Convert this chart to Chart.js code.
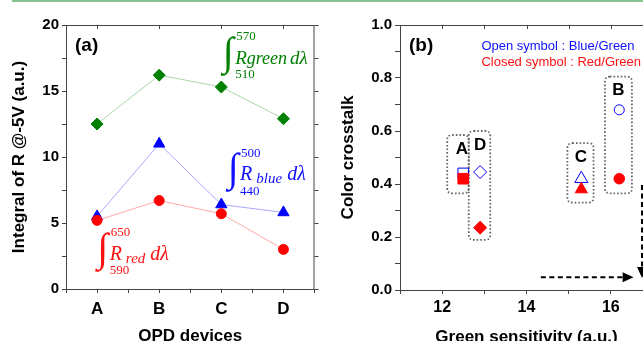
<!DOCTYPE html>
<html>
<head>
<meta charset="utf-8">
<script src="https://cdn.jsdelivr.net/npm/chart.js@4.4.0/dist/chart.umd.min.js"></script>
<style>
html, body { margin: 0; padding: 0; background: #fff; }
body { width: 643px; height: 341px; overflow: hidden; position: relative; }
#topline { position: absolute; left: 12px; top: 0; width: 631px; height: 0; border-top: 2px solid #86c48f; z-index: 2; }
canvas { position: absolute; top: 0; }
</style>
</head>
<body>
<canvas id="chartA" width="322" height="360" style="left:0"></canvas>
<canvas id="chartB" width="350" height="360" style="left:322px"></canvas>
<div id="topline"></div>
<script>
// panel (a)
var devices = ['A', 'B', 'C', 'D'];
var greenResp = [12.5, 16.2, 15.3, 12.9];
var blueResp = [5.5, 11.0, 6.4, 5.8];
var redResp = [5.2, 6.7, 5.7, 3.0];

// panel (b)
var greenSens = [12.5, 16.2, 15.3, 12.9];
var blueGreen = [0.44, 0.68, 0.42, 0.445];
var redGreen = [0.42, 0.42, 0.38, 0.235];
var shapes = ['rect', 'circle', 'triangle', 'rectRot'];

var FONT = "'Liberation Sans', Arial, sans-serif";
var SERIF = "'Liberation Serif', 'Times New Roman', serif";
Chart.defaults.font.family = FONT;
Chart.defaults.color = '#000';

function pts(vals) {
    return vals.map(function (v, i) { return {x: i + 1, y: v}; });
}

// top/right frame with small ticks
var framePlugin = {
    id: 'frame',
    afterDraw: function (chart, args, opts) {
        var ctx = chart.ctx, a = chart.chartArea;
        var x = chart.scales.x, y = chart.scales.y;
        ctx.save();
        ctx.strokeStyle = '#444';
        ctx.lineWidth = 1;
        ctx.beginPath();
        ctx.moveTo(a.left, a.top + 0.5);
        ctx.lineTo(a.right, a.top + 0.5);
        ctx.moveTo(a.right - 0.5, a.top);
        ctx.lineTo(a.right - 0.5, a.bottom);
        x.ticks.forEach(function (t) {
            if (opts.topEvery && Math.abs(t.value % opts.topEvery) > 1e-6) return;
            var px = Math.round(x.getPixelForValue(t.value)) + 0.5;
            ctx.moveTo(px, a.top);
            ctx.lineTo(px, a.top + 4);
        });
        y.ticks.forEach(function (t) {
            var py = Math.round(y.getPixelForValue(t.value)) + 0.5;
            ctx.moveTo(a.right, py);
            ctx.lineTo(a.right + 4, py);
        });
        ctx.stroke();
        ctx.fillStyle = '#000';
        ctx.font = 'bold 19px ' + FONT;
        ctx.textAlign = 'left';
        ctx.textBaseline = 'middle';
        ctx.fillText(opts.tag, a.left + 9, a.top + 21);
        ctx.restore();
    }
};

// integral labels of panel (a)
var integralLabels = [
    {x: 3.11, y: 17.8, color: '#008000', sup: '570', sub: '510', name: 'green', small: false},
    {x: 3.19, y: 9.0, color: '#1010ff', sup: '500', sub: '440', name: 'blue', small: true},
    {x: 1.09, y: 2.95, color: '#ff1010', sup: '650', sub: '590', name: 'red', small: true}
];

var integralPlugin = {
    id: 'integrals',
    afterDraw: function (chart) {
        var ctx = chart.ctx;
        var xs = chart.scales.x, ys = chart.scales.y;
        ctx.save();
        integralLabels.forEach(function (lab) {
            var px = xs.getPixelForValue(lab.x), py = ys.getPixelForValue(lab.y);
            ctx.fillStyle = lab.color;
            ctx.font = '40px ' + SERIF;
            ctx.textAlign = 'center';
            ctx.textBaseline = 'middle';
            ctx.fillText('\u222B', px, py);
            ctx.textAlign = 'left';
            ctx.font = '13px ' + SERIF;
            ctx.fillText(lab.sup, px + 8, py - 17);
            ctx.fillText(lab.sub, px + 7, py + 21);
            ctx.textBaseline = 'alphabetic';
            var cx = px + 7, base = py + 10;
            if (lab.small) {
                ctx.font = 'italic 20px ' + SERIF;
                ctx.fillText('R', cx, base);
                cx += ctx.measureText('R').width + 4;
                ctx.font = 'italic 15px ' + SERIF;
                ctx.fillText(lab.name, cx, base + 3);
                cx += ctx.measureText(lab.name).width + 5;
                ctx.font = 'italic 20px ' + SERIF;
            } else {
                ctx.font = 'italic 19px ' + SERIF;
                ctx.fillText('R', cx, base);
                cx += ctx.measureText('R').width;
                ctx.font = 'italic 18px ' + SERIF;
                ctx.fillText(lab.name, cx, base);
                cx += ctx.measureText(lab.name).width + 3;
                ctx.font = 'italic 19px ' + SERIF;
            }
            ctx.fillText('d\u03BB', cx, base);
        });
        ctx.restore();
    }
};

new Chart(document.getElementById('chartA'), {
    type: 'line',
    data: {
        datasets: [
            {label: 'Red', data: pts(redResp), borderColor: '#ffa8a8', borderWidth: 1,
                pointStyle: 'circle', pointRadius: 5, pointBackgroundColor: '#ff0000', pointBorderColor: '#ff0000'},
            {label: 'Blue', data: pts(blueResp), borderColor: '#a8a8ff', borderWidth: 1,
                pointStyle: 'triangle', pointRadius: 6.5, pointBackgroundColor: '#0000ff', pointBorderColor: '#0000ff'},
            {label: 'Green', data: pts(greenResp), borderColor: '#a8d8a8', borderWidth: 1,
                pointStyle: 'rectRot', pointRadius: 6, pointBackgroundColor: '#008000', pointBorderColor: '#008000'}
        ]
    },
    options: {
        responsive: false,
        animation: false,
        events: [],
        layout: {padding: {top: 25, right: 3, left: 0, bottom: 0}},
        plugins: {
            legend: {display: false},
            tooltip: {enabled: false},
            frame: {tag: '(a)', topEvery: 1}
        },
        scales: {
            x: {
                type: 'linear', min: 0.5, max: 4.5,
                afterFit: function (s) { s.height = 71; },
                ticks: {
                    stepSize: 0.5, autoSkip: false, maxRotation: 0, padding: 6,
                    font: {size: 17, weight: 'bold'},
                    callback: function (v) { return Number.isInteger(v) ? devices[v - 1] : ''; }
                },
                grid: {drawOnChartArea: false, tickLength: 4, color: '#444'},
                border: {color: '#444'},
                title: {display: true, text: 'OPD devices', font: {size: 17, weight: 'bold'}, padding: {top: 0, bottom: 13}}
            },
            y: {
                min: 0, max: 20,
                afterFit: function (s) { s.width = 66; },
                ticks: {
                    stepSize: 2.5, padding: 3,
                    font: {size: 15, weight: 'bold'},
                    callback: function (v) { return v % 5 === 0 ? v : ''; }
                },
                grid: {drawOnChartArea: false, tickLength: 4, color: '#444'},
                border: {color: '#444'},
                title: {display: true, text: 'Integral of R @-5V (a.u.)', font: {size: 17, weight: 'bold'}, padding: {top: 9, bottom: 0}}
            }
        }
    },
    plugins: [framePlugin, integralPlugin]
});

// dotted group boxes of panel (b), in data units
var groupBoxes = [
    {name: 'A', x0: 12.12, x1: 12.63, y0: 0.365, y1: 0.585, lx: 12.47},
    {name: 'D', x0: 12.63, x1: 13.14, y0: 0.189, y1: 0.60, lx: 12.9},
    {name: 'C', x0: 14.97, x1: 15.59, y0: 0.33, y1: 0.554, lx: 15.29},
    {name: 'B', x0: 15.86, x1: 16.50, y0: 0.365, y1: 0.805, lx: 16.18}
];
var arrows = [
    {x0: 14.34, y0: 0.048, x1: 16.54, y1: 0.048},
    {x0: 16.74, y0: 0.396, x1: 16.74, y1: 0.045}
];
var noteLines = [
    {text: 'Open symbol : Blue/Green', color: '#1010ff', x: 12.93, y: 0.918},
    {text: 'Closed symbol : Red/Green', color: '#ff1010', x: 12.93, y: 0.859}
];

function roundRect(ctx, x, y, w, h, r) {
    ctx.beginPath();
    ctx.moveTo(x + r, y);
    ctx.lineTo(x + w - r, y);
    ctx.quadraticCurveTo(x + w, y, x + w, y + r);
    ctx.lineTo(x + w, y + h - r);
    ctx.quadraticCurveTo(x + w, y + h, x + w - r, y + h);
    ctx.lineTo(x + r, y + h);
    ctx.quadraticCurveTo(x, y + h, x, y + h - r);
    ctx.lineTo(x, y + r);
    ctx.quadraticCurveTo(x, y, x + r, y);
    ctx.closePath();
}

var notesPlugin = {
    id: 'notes',
    beforeDatasetsDraw: function (chart) {
        var ctx = chart.ctx, xs = chart.scales.x, ys = chart.scales.y;
        ctx.save();
        ctx.strokeStyle = '#666';
        ctx.lineWidth = 1.8;
        ctx.setLineDash([1.6, 2]);
        groupBoxes.forEach(function (b) {
            var l = xs.getPixelForValue(b.x0), r = xs.getPixelForValue(b.x1);
            var t = ys.getPixelForValue(b.y1), bt = ys.getPixelForValue(b.y0);
            roundRect(ctx, l, t, r - l, bt - t, 5);
            ctx.stroke();
        });
        ctx.setLineDash([]);
        ctx.fillStyle = '#000';
        ctx.font = 'bold 17px ' + FONT;
        ctx.textAlign = 'center';
        ctx.textBaseline = 'middle';
        groupBoxes.forEach(function (b) {
            ctx.fillText(b.name, xs.getPixelForValue(b.lx), ys.getPixelForValue(b.y1) + 14);
        });
        // dashed arrows
        ctx.strokeStyle = '#000';
        ctx.fillStyle = '#000';
        ctx.lineWidth = 2;
        arrows.forEach(function (a) {
            var x0 = xs.getPixelForValue(a.x0), y0 = ys.getPixelForValue(a.y0);
            var x1 = xs.getPixelForValue(a.x1), y1 = ys.getPixelForValue(a.y1);
            var ang = Math.atan2(y1 - y0, x1 - x0);
            var hx = x1 - 11 * Math.cos(ang), hy = y1 - 11 * Math.sin(ang);
            ctx.setLineDash([5, 3.5]);
            ctx.beginPath();
            ctx.moveTo(x0, y0);
            ctx.lineTo(hx, hy);
            ctx.stroke();
            ctx.setLineDash([]);
            ctx.beginPath();
            ctx.moveTo(x1, y1);
            ctx.lineTo(hx + 5 * Math.sin(ang), hy - 5 * Math.cos(ang));
            ctx.lineTo(hx - 5 * Math.sin(ang), hy + 5 * Math.cos(ang));
            ctx.closePath();
            ctx.fill();
        });
        ctx.font = '13px ' + FONT;
        ctx.textAlign = 'left';
        noteLines.forEach(function (n) {
            ctx.fillStyle = n.color;
            ctx.fillText(n.text, xs.getPixelForValue(n.x), ys.getPixelForValue(n.y));
        });
        ctx.restore();
    }
};

new Chart(document.getElementById('chartB'), {
    type: 'scatter',
    data: {
        datasets: [
            {label: 'Red/Green', data: greenSens.map(function (s, i) { return {x: s, y: redGreen[i]}; }),
                pointStyle: shapes, pointRadius: [7.5, 5.3, 7, 6.5],
                backgroundColor: '#ff0000', borderColor: '#ff0000', borderWidth: 1},
            {label: 'Blue/Green', data: greenSens.map(function (s, i) { return {x: s, y: blueGreen[i]}; }),
                pointStyle: shapes, pointRadius: [7.5, 5, 7.5, 6.5],
                backgroundColor: 'rgba(255,255,255,0)', borderColor: '#0000ff', borderWidth: 1}
        ]
    },
    options: {
        responsive: false,
        animation: false,
        events: [],
        layout: {padding: {top: 25, right: 19, left: 0, bottom: 0}},
        plugins: {
            legend: {display: false},
            tooltip: {enabled: false},
            frame: {tag: '(b)', topEvery: 0}
        },
        scales: {
            x: {
                type: 'linear', min: 11, max: 17,
                afterFit: function (s) { s.height = 70; },
                ticks: {
                    stepSize: 1, autoSkip: false, maxRotation: 0, padding: 4,
                    font: {size: 16, weight: 'bold'},
                    callback: function (v) { return v % 2 === 0 ? v : ''; }
                },
                grid: {drawOnChartArea: false, tickLength: 4, color: '#444'},
                border: {color: '#444'},
                title: {display: true, text: 'Green sensitivity (a.u.)', font: {size: 17, weight: 'bold'}, padding: {top: 0, bottom: 12}}
            },
            y: {
                min: 0, max: 1,
                afterFit: function (s) { s.width = 78; },
                ticks: {
                    stepSize: 0.1, padding: 3,
                    font: {size: 15, weight: 'bold'},
                    callback: function (v) { return Math.round(v * 10) % 2 === 0 ? v.toFixed(1) : ''; }
                },
                grid: {drawOnChartArea: false, tickLength: 5, color: '#444'},
                border: {color: '#444'},
                title: {display: true, text: 'Color crosstalk', font: {size: 17, weight: 'bold'}, padding: {top: 16, bottom: 0}}
            }
        }
    },
    plugins: [framePlugin, notesPlugin]
});
</script>
</body>
</html>
